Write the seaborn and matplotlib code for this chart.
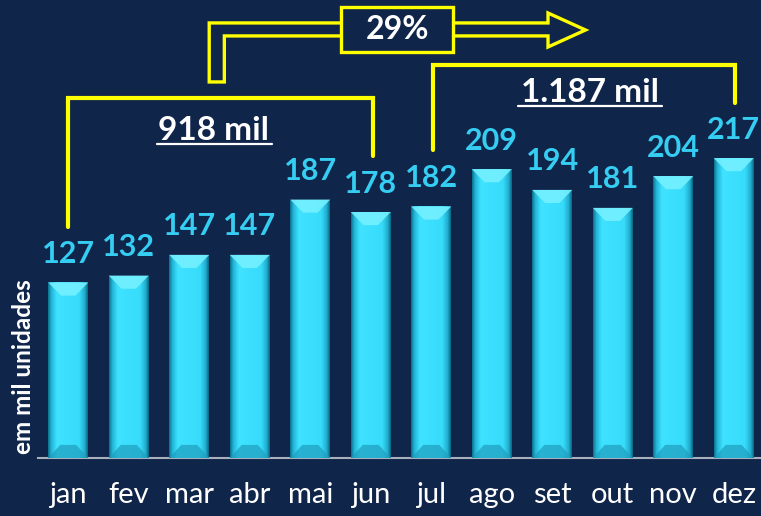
import numpy as np
import matplotlib
matplotlib.use("Agg")
import matplotlib.pyplot as plt
from matplotlib.colors import LinearSegmentedColormap
from matplotlib.patches import Polygon, Rectangle
import seaborn as sns

# dados (mil unidades por mes)
meses = ["jan", "fev", "mar", "abr", "mai", "jun", "jul", "ago", "set", "out", "nov", "dez"]
vendas = [127, 132, 147, 147, 187, 178, 182, 209, 194, 181, 204, 217]
total_1sem = "918 mil"
total_2sem = "1.187 mil"
crescimento = "29%"

fundo = "#10254a"
amarelo = "#ffff00"
ciano_txt = "#36cdf2"

sns.set_theme(style="white")
plt.rcParams["font.family"] = ["Lato", "DejaVu Sans"]

fig = plt.figure(figsize=(7.61, 5.16), dpi=100, facecolor=fundo)
ax = fig.add_axes([38 / 761, 58 / 516, 726 / 761, 458 / 516])
ax.set_facecolor(fundo)

sns.barplot(x=meses, y=vendas, color="#33d6f5", saturation=1, width=0.66, ax=ax, zorder=2,
            edgecolor="none", linewidth=0)

# efeito 3D nas barras
cmap = LinearSegmentedColormap.from_list("barra", [
    (0, "#0d6f8c"), (0.08, "#22b4d6"), (0.22, "#3fe2ff"),
    (0.78, "#38dcfb"), (0.92, "#22aed0"), (1, "#0b6682")])
grad = np.linspace(0, 1, 200).reshape(1, -1)
d = 9.5
for p in ax.patches:
    x0, w, h = p.get_x(), p.get_width(), p.get_height()
    im = ax.imshow(grad, extent=[x0, x0 + w, 0, h], aspect="auto", cmap=cmap, zorder=3)
    im.set_clip_path(p)
    ax.add_patch(Polygon([(x0, h), (x0 + w, h), (x0 + 0.68 * w, h - d), (x0 + 0.32 * w, h - d)],
                         facecolor="#74f0ff", edgecolor="none", alpha=0.9, zorder=4))
    ax.add_patch(Polygon([(x0, 0), (x0 + w, 0), (x0 + 0.7 * w, d), (x0 + 0.3 * w, d)],
                         facecolor="#1f9dbd", edgecolor="none", alpha=0.7, zorder=4))

for i, v in enumerate(vendas):
    ax.annotate(str(v), (i, v), xytext=(0, 14), textcoords="offset points",
                ha="center", va="baseline", color=ciano_txt, fontsize=22, fontweight="bold")

ax.set_xlim(-0.5, 11.5)
ax.set_ylim(0, 331.4)
ax.set_yticks([])
ax.set_ylabel("")
ax.set_xlabel("")
for s in ["top", "right", "left"]:
    ax.spines[s].set_visible(False)
ax.spines["bottom"].set_color("#a9b0bd")
ax.spines["bottom"].set_linewidth(1.5)
ax.set_xticks(np.arange(12))
ax.set_xticklabels(meses)
ax.set_xticks(np.arange(-0.5, 12, 1), minor=True)
ax.tick_params(axis="x", which="major", length=0, pad=17, labelsize=21, labelcolor="white")
ax.tick_params(axis="x", which="minor", length=6, width=1.5, color="#a9b0bd", direction="out")

fig.text(24 / 761, 1 - 367 / 516, "em mil unidades", rotation=90, ha="center", va="center",
         color="white", fontsize=17.5, fontweight="bold")

# chaves dos semestres
ax.plot([0, 0, 5.04, 5.04], [167, 260.5, 260.5, 218.5], color=amarelo, lw=3, zorder=5,
        solid_joinstyle="miter", clip_on=False)
ax.plot([6.03, 6.03, 11.02, 11.02], [222.9, 284.4, 284.4, 256.9], color=amarelo, lw=3, zorder=5,
        solid_joinstyle="miter", clip_on=False)

ax.text(2.40, 230, total_1sem, ha="center", va="baseline", color="white", fontsize=24, fontweight="bold")
ax.plot([1.47, 3.36], [227.3, 227.3], color="white", lw=1.6)
ax.text(8.63, 257.6, total_2sem, ha="center", va="baseline", color="white", fontsize=24, fontweight="bold")
ax.plot([7.44, 9.82], [254.4, 254.4], color="white", lw=1.6)

# seta de crescimento
seta = [(2.33, 272.1), (2.33, 314.8), (7.93, 314.8), (7.93, 322), (8.55, 309.7),
        (7.93, 297.4), (7.93, 305.4), (2.58, 305.4), (2.58, 272.1)]
ax.add_patch(Polygon(seta, closed=True, facecolor="none", edgecolor=amarelo, lw=2.4,
                     joinstyle="miter", zorder=5, clip_on=False))
ax.add_patch(Rectangle((4.51, 293.8), 6.36 - 4.51, 326.3 - 293.8, facecolor=fundo,
                       edgecolor=amarelo, lw=2.4, zorder=6, clip_on=False))
ax.text(5.44, 309.7, crescimento, ha="center", va="center", color="white", fontsize=23,
        fontweight="bold", zorder=7)

fig.savefig("out.png", dpi=100, facecolor=fundo)
